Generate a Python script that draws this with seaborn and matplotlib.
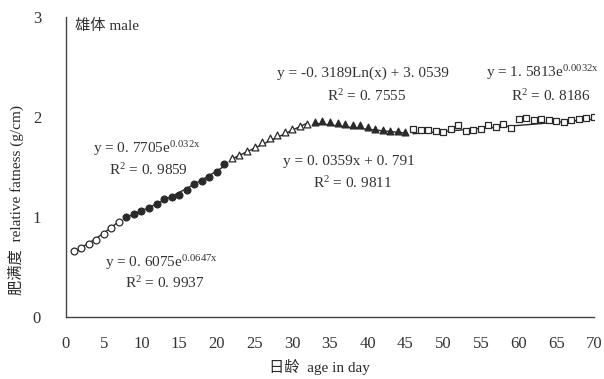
import numpy as np
import pandas as pd
import seaborn as sns
import matplotlib.pyplot as plt

# values (relative fatness, g/cm)
days_a = [1, 2, 3, 4, 5, 6, 7]
vals_a = [0.66, 0.69, 0.73, 0.77, 0.83, 0.89, 0.95]

days_b = list(range(8, 22))
vals_b = [1.00, 1.03, 1.06, 1.09, 1.13, 1.18, 1.20, 1.22, 1.27, 1.33, 1.36, 1.40, 1.45, 1.53]

days_c = list(range(22, 33))
vals_c = [1.59, 1.62, 1.66, 1.70, 1.75, 1.79, 1.82, 1.85, 1.88, 1.91, 1.93]

days_d = list(range(33, 46))
vals_d = [1.95, 1.96, 1.95, 1.94, 1.93, 1.92, 1.92, 1.90, 1.88, 1.87, 1.86, 1.86, 1.85]

days_e = list(range(46, 71))
vals_e = [1.88, 1.87, 1.87, 1.86, 1.85, 1.88, 1.92, 1.86, 1.87, 1.88, 1.92, 1.90, 1.93,
          1.89, 1.98, 1.99, 1.97, 1.98, 1.97, 1.96, 1.95, 1.97, 1.98, 1.99, 2.00]

# trend line coefficients printed on the chart
fit_a = [0.6075, 0.0647]   # a*exp(b*x)
fit_b = [0.7705, 0.032]    # a*exp(b*x)
fit_c = [0.0359, 0.791]    # a*x + b
fit_d = [-0.3189, 3.0539]  # a*ln(x) + b
fit_e = [1.5813, 0.0032]   # a*exp(b*x)

sns.set_style("white")
plt.rcParams['font.family'] = ['Liberation Serif', 'Noto Sans CJK SC']
plt.rcParams['mathtext.fontset'] = 'stix'

df = pd.concat([
    pd.DataFrame({"day": days_a, "fat": vals_a, "grp": "a"}),
    pd.DataFrame({"day": days_b, "fat": vals_b, "grp": "b"}),
    pd.DataFrame({"day": days_c, "fat": vals_c, "grp": "c"}),
    pd.DataFrame({"day": days_d, "fat": vals_d, "grp": "d"}),
    pd.DataFrame({"day": days_e, "fat": vals_e, "grp": "e"}),
], ignore_index=True)

fig = plt.figure(figsize=(6.04, 3.79), dpi=100)
ax = fig.add_axes([66 / 604, 1 - 317 / 379, 528 / 604, 300 / 379])

ink = "#2a2a2a"

# trend lines
trend = []
for grp, days, f in [("a", days_a, lambda x: fit_a[0] * np.exp(fit_a[1] * x)),
                     ("b", days_b, lambda x: fit_b[0] * np.exp(fit_b[1] * x)),
                     ("c", days_c, lambda x: fit_c[0] * x + fit_c[1]),
                     ("d", days_d, lambda x: fit_d[0] * np.log(x) + fit_d[1]),
                     ("e", days_e, lambda x: fit_e[0] * np.exp(fit_e[1] * x))]:
    xs = np.array(days, dtype=float)
    trend.append(pd.DataFrame({"day": xs, "fat": f(xs), "grp": grp}))
trend = pd.concat(trend, ignore_index=True)
for grp, sub in trend.groupby("grp"):
    sns.lineplot(data=sub, x="day", y="fat", color=ink, lw=1.0, ax=ax, legend=False)

styles = {"a": ("o", "white"), "b": ("o", ink), "c": ("^", "white"),
          "d": ("^", ink), "e": ("s", "white")}
for grp, sub in df.groupby("grp"):
    m, fc = styles[grp]
    sns.scatterplot(data=sub, x="day", y="fat", marker=m, s=24, facecolor=fc,
                    edgecolor=ink, linewidth=0.9, ax=ax, legend=False, zorder=3)

ax.set_xlim(0, 70)
ax.set_ylim(0, 3)
ax.set_xticks(range(0, 71, 5))
ax.set_yticks([0, 1, 2, 3])
for s in ["top", "right"]:
    ax.spines[s].set_visible(False)
for s in ["left", "bottom"]:
    ax.spines[s].set_color("#444444")
    ax.spines[s].set_linewidth(1.0)
ax.tick_params(direction="in", length=4, width=1, color="#444444",
               labelsize=12, labelcolor="#333333")
ax.tick_params(axis="x", pad=14)
ax.tick_params(axis="y", pad=18)

ax.set_xlabel("日龄  age in day", fontsize=11, color=ink)
ax.xaxis.set_label_coords(0.48, -0.14)
ax.set_ylabel("肥满度  relative fatness (g/cm)", fontsize=11, color=ink)
ax.yaxis.set_label_coords(-0.08, 0.39)

tc = "#333333"
def ftext(x, y, s, size=11):
    fig.text(x / 604, 1 - y / 379, s, fontsize=size, color=tc, va="center")

ftext(75, 26, "雄体 male", size=11)
ftext(277, 73, "y = -0. 3189Ln(x) + 3. 0539")
ftext(327, 96, "R$\\mathregular{^2}$ = 0. 7555")
ftext(486, 73, "y = 1. 5813e$\\mathregular{^{0.0032x}}$")
ftext(511, 96, "R$\\mathregular{^2}$ = 0. 8186")
ftext(93, 149, "y = 0. 7705e$\\mathregular{^{0.032x}}$")
ftext(109, 170, "R$\\mathregular{^2}$ = 0. 9859")
ftext(283, 161, "y = 0. 0359x + 0. 791")
ftext(313, 183, "R$\\mathregular{^2}$ = 0. 9811")
ftext(105, 263, "y = 0. 6075e$\\mathregular{^{0.0647x}}$")
ftext(125, 283, "R$\\mathregular{^2}$ = 0. 9937")

plt.savefig("out.png", dpi=100)
plt.close()
